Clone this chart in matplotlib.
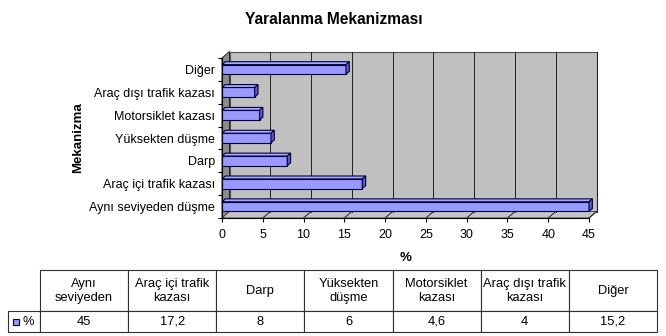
import matplotlib
matplotlib.use("Agg")
import matplotlib.pyplot as plt
from matplotlib.patches import Polygon, Rectangle
import numpy as np

plt.rcParams['font.family'] = ['Liberation Sans', 'DejaVu Sans']

# ---- data ----
categories = ["Aynı seviyeden düşme", "Araç içi trafik kazası", "Darp",
              "Yüksekten düşme", "Motorsiklet kazası", "Araç dışı trafik kazası",
              "Diğer"]
values = [45, 17.2, 8, 6, 4.6, 4, 15.2]
table_headers = ["Aynı\nseviyeden", "Araç içi trafik\nkazası", "Darp",
                 "Yüksekten\ndüşme", "Motorsiklet\nkazası",
                 "Araç dışı trafik\nkazası", "Diğer"]
table_values = ["45", "17,2", "8", "6", "4,6", "4", "15,2"]
series_name = "%"
xticks = list(range(0, 50, 5))
title = "Yaralanma Mekanizması"
ylabel = "Mekanizma"
xlabel = "%"

W, H = 666, 336
fig = plt.figure(figsize=(W / 100, H / 100), dpi=100)
fig.patch.set_facecolor('white')

# main axes: front plane
L, R, T, B = 222, 589, 58, 218
ax = fig.add_axes([L / W, 1 - B / H, (R - L) / W, (B - T) / H])
ax.set_facecolor('none')
n = len(categories)
y = np.arange(n)
ax.set_xlim(0, 45)
ax.set_ylim(-0.5, n - 0.5)

# depth in data units
depth_x_px, depth_y_px = 7.5, 6.5
dx = depth_x_px * 45 / (R - L)
dy = depth_y_px * n / (B - T)

wall_c = '#C0C0C0'
side_c = '#8C8C8C'
floor_c = '#C4C4C4'
edge_c = '#202020'
y0, y1 = -0.5, n - 0.5
x0, x1 = 0, 45

# back wall
ax.add_patch(Polygon([[x0 + dx, y0 + dy], [x1 + dx, y0 + dy], [x1 + dx, y1 + dy], [x0 + dx, y1 + dy]],
                     closed=True, facecolor=wall_c, edgecolor='#505050', lw=0.8, zorder=0.5, clip_on=False))
# left side wall
ax.add_patch(Polygon([[x0, y0], [x0 + dx, y0 + dy], [x0 + dx, y1 + dy], [x0, y1]],
                     closed=True, facecolor=side_c, edgecolor=edge_c, lw=0.7, zorder=0.55, clip_on=False))
# floor
ax.add_patch(Polygon([[x0, y0], [x1, y0], [x1 + dx, y0 + dy], [x0 + dx, y0 + dy]],
                     closed=True, facecolor=floor_c, edgecolor='#505050', lw=0.7, zorder=0.55, clip_on=False))
# gridlines on back wall and floor
for t in xticks[1:]:
    ax.plot([t + dx, t + dx], [y0 + dy, y1 + dy], color=edge_c, lw=0.7, zorder=0.6, clip_on=False)
    ax.plot([t, t + dx], [y0, y0 + dy], color=edge_c, lw=0.7, zorder=0.6, clip_on=False)

# bars
bh = 0.42
bar_c = '#9999FF'
bar_e = '#000040'
ax.barh(y, values, height=bh, color=bar_c, edgecolor=bar_e, lw=0.8, zorder=2)
bdx = dx * 0.45
bdy = dy * 0.45
for yi, v in zip(y, values):
    top = yi + bh / 2
    bot = yi - bh / 2
    ax.add_patch(Polygon([[0, top], [v, top], [v + bdx, top + bdy], [bdx, top + bdy]],
                         closed=True, facecolor='#A8A8FF', edgecolor=bar_e, lw=0.8, zorder=2.1, clip_on=False))
    ax.add_patch(Polygon([[v, bot], [v + bdx, bot + bdy], [v + bdx, top + bdy], [v, top]],
                         closed=True, facecolor='#5C5CB8', edgecolor=bar_e, lw=0.8, zorder=2.1, clip_on=False))

# axes styling
for s in ['top', 'right']:
    ax.spines[s].set_visible(False)
for s in ['left', 'bottom']:
    ax.spines[s].set_color('black')
    ax.spines[s].set_linewidth(0.8)
    ax.spines[s].set_zorder(3)
ax.set_xticks(xticks)
ax.set_xticklabels([str(t) for t in xticks], fontsize=9)
ax.tick_params(axis='x', length=3, width=0.8, pad=5)
ax.set_yticks(np.arange(-0.5, n, 1.0))
ax.set_yticklabels([])
ax.set_yticks(y, minor=True)
ax.set_yticklabels(categories, minor=True, fontsize=9)
ax.tick_params(axis='y', which='major', length=3, width=0.8)
ax.tick_params(axis='y', which='minor', length=0, pad=5)

fig.text(334 / W, 1 - 20 / H, title, ha='center', va='center', fontsize=11.2, fontweight='bold')
fig.text(78 / W, 1 - 138 / H, ylabel, ha='center', va='center', rotation=90, fontsize=9.5, fontweight='bold')
fig.text(406 / W, 1 - 258 / H, xlabel, ha='center', va='center', fontsize=9.5, fontweight='bold')

# table (first column holds the legend key)
TL, TR, TT, TB = 8, 657, 270, 332
rowlab_w = 32
tax = fig.add_axes([TL / W, 1 - TB / H, (TR - TL) / W, (TB - TT) / H])
tax.axis('off')
tw = TR - TL
th = TB - TT
tbl = tax.table(cellText=[[""] + table_values], colLabels=[""] + table_headers,
                cellLoc='center', colLoc='center', bbox=[0, 0, 1, 1])
tbl.auto_set_font_size(False)
tbl.set_fontsize(9.3)
col_w = (tw - rowlab_w) / len(table_headers)
for (r, c), cell in tbl.get_celld().items():
    cell.set_edgecolor('#303030')
    cell.set_linewidth(0.8)
    cell.set_width(rowlab_w if c == 0 else col_w)
    cell.set_height(2 if r == 0 else 1)
tbl[0, 0].visible_edges = ''
# legend key in first data cell
tax.add_patch(Rectangle((5 / tw, 0.5 / 3 - 3 / th), 6 / tw, 6 / th,
                        transform=tax.transAxes, facecolor=bar_c, edgecolor=bar_e, lw=0.8, clip_on=False))
tax.text(20 / tw, 0.5 / 3, series_name, transform=tax.transAxes, ha='center', va='center', fontsize=9.3)

fig.savefig('out.png', dpi=100)
